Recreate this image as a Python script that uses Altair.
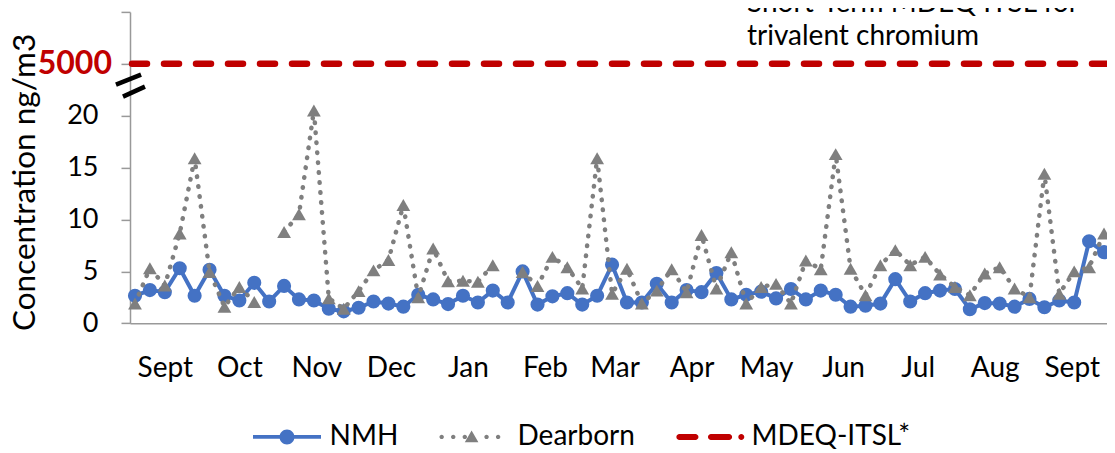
import altair as alt
import pandas as pd

# ---------------- data ----------------
FIRST_SAMPLE = "2010-08-20"
STEP_DAYS = 6  # 1-in-6 day sampling schedule

NMH = [2.65, 3.2, 3.0, 5.3, 2.65, 5.15, 2.65, 2.2, 3.9, 2.1,
       3.6, 2.3, 2.2, 1.4, 1.15, 1.5, 2.1, 1.9, 1.6, 2.75,
       2.3, 1.85, 2.65, 2.0, 3.15, 2.0, 5.0, 1.8, 2.6, 2.9,
       1.8, 2.65, 5.65, 2.0, 2.0, 3.8, 2.0, 3.2, 3.0, 4.85,
       2.3, 2.75, 3.05, 2.4, 3.3, 2.3, 3.15, 2.75, 1.6, 1.7,
       1.9, 4.25, 2.1, 2.9, 3.15, 3.3, 1.35, 1.95, 1.9, 1.6,
       2.35, 1.55, 2.2, 2.0, 7.9, 6.85]

DEARBORN = [1.9, 5.3, 3.65, 8.65, 15.9, 4.95, 1.6, 3.5, 2.05, None,
            8.8, 10.5, 20.5, 2.4, 1.4, 3.1, 5.1, 6.1, 11.4, 2.5,
            7.2, 4.05, 4.1, 4.0, 5.6, None, 4.95, 3.6, 6.4, 5.4,
            3.35, 15.9, 2.85, 5.25, 1.9, 3.15, 5.2, 3.0, 8.5, 3.35,
            6.85, 1.9, 3.5, 3.8, 1.9, 6.05, 5.2, 16.3, 5.25, 2.7,
            5.6, 7.05, 5.6, 6.4, 4.7, 3.5, 2.7, 4.8, 5.4, 3.35,
            2.5, 14.4, 2.85, 5.0, 5.4, 8.65]

SERIES = ["NMH", "Dearborn", "MDEQ-ITSL*"]
COLORS = ["#4472C4", "#7F7F7F", "#C00000"]
ITSL_VALUE = 5000
ITSL_LABEL = "5000"
ANNOTATION = ["Short-Term MDEQ ITSL for", "trivalent chromium"]
Y_TITLE = "Concentration ng/m3"
Y_TICKS = [0, 5, 10, 15, 20, 25, 30]

# broken axis: the 5000 threshold is drawn at axis position 25
ITSL_AXIS_POS = 25
BREAK_POS = 22.9

FONT = "Lato"

dates = pd.date_range(FIRST_SAMPLE, periods=len(NMH), freq=f"{STEP_DAYS}D").strftime("%Y-%m-%d")

nmh_df = pd.DataFrame({"date": dates, "value": NMH})
dear_df = pd.DataFrame({"date": dates, "value": DEARBORN})
dear_df["seg"] = dear_df["value"].isna().cumsum()
dear_df = dear_df.dropna()
itsl_df = pd.DataFrame({"value": [ITSL_VALUE], "pos": [ITSL_AXIS_POS], "text": [ITSL_LABEL]})
break_df = pd.DataFrame({"pos": [BREAK_POS]})
legend_df = pd.DataFrame({"series": SERIES})

# ---------------- scales / axes ----------------
t0 = pd.Timestamp(FIRST_SAMPLE, tz="UTC")
x_dom = [int((t0 - pd.Timedelta(days=2.01)).value // 10**6),
         int((t0 + pd.Timedelta(days=391.2)).value // 10**6)]

x_axis = alt.Axis(
    title=None, tickCount={"interval": "month", "step": 1}, ticks=False, tickSize=0,
    labelExpr="utcFormat(datum.value, '%b') == 'Sep' ? 'Sept' : utcFormat(datum.value, '%b')",
    labelPadding=53.5, labelBaseline="alphabetic", labelAlign="center",
    labelFont=FONT, labelFontSize=28, labelColor="black",
    labelOverlap=False, labelFlush=False, grid=False,
    domainColor="#999999", domainWidth=1.5,
)
y_axis = alt.Axis(
    title=Y_TITLE, values=Y_TICKS,
    labelExpr="datum.value > 20 ? '' : datum.label",
    tickSize=9, tickColor="#999999", tickWidth=1.5,
    labelPadding=23, labelFont=FONT, labelFontSize=27, labelColor="black",
    grid=False, domainColor="#999999", domainWidth=1.5,
    titleFont=FONT, titleFontSize=31.5, titleFontWeight="normal", titleColor="black",
    titleAngle=270, titleBaseline="bottom", titleAlign="center",
    titleX=-89, titleY=170,
)
x_scale = alt.Scale(type="utc", domain=x_dom, nice=False)
y_scale = alt.Scale(domain=[0, 30], nice=False, zero=False)


def X(field):
    return alt.X(f"{field}:T", scale=x_scale, axis=x_axis)


def Y(field):
    return alt.Y(f"{field}:Q", scale=y_scale, axis=y_axis)


# ---------------- legend symbols (unit box paths) ----------------
def circ(cx, r, cy=0.0):
    return (f"M{cx - r},{cy} A{r},{r} 0 1,1 {cx + r},{cy} "
            f"A{r},{r} 0 1,1 {cx - r},{cy} Z ")


def rbar(x0, x1, h):
    return (f"M{x0 + h},{-h} L{x1 - h},{-h} A{h},{h} 0 0,1 {x1 - h},{h} "
            f"L{x0 + h},{h} A{h},{h} 0 0,1 {x0 + h},{-h} Z ")


NMH_PATH = ("M-1,-0.055 L-0.2,-0.055 L-0.2,0.055 L-1,0.055 Z "
            "M0.2,-0.055 L1,-0.055 L1,0.055 L0.2,0.055 Z " + circ(0, 0.22))
DEAR_PATH = ("".join(circ(x, 0.065) for x in [-0.98, -0.64, -0.3, 0.34, 0.68])
             + "M-0.1,-0.19 L0.1,0.16 L-0.3,0.16 Z")
ITSL_PATH = rbar(-0.96, -0.31, 0.088) + rbar(-0.03, 0.68, 0.088) + circ(0.95, 0.088)
BREAK_PATH = "M-1.08,-0.08 L0.85,-0.85 M-0.54,0.85 L1.15,0.08"

legend = alt.Legend(
    orient="none", legendX=123, legendY=391, direction="horizontal", title=None,
    labelFont=FONT, labelFontSize=28, labelColor="black", labelOffset=8.5,
    columnPadding=40, symbolSize=4624, symbolStrokeWidth=0, symbolOpacity=1, padding=0,
)

# ---------------- layers ----------------
itsl_rule = alt.Chart(itsl_df).mark_rule(
    color=COLORS[2], strokeWidth=6.5, strokeDash=[15, 17], strokeCap="round"
).encode(y=Y("pos"))

nmh_line = alt.Chart(nmh_df).mark_line(color=COLORS[0], strokeWidth=4).encode(
    x=X("date"), y=Y("value"))
nmh_pts = alt.Chart(nmh_df).mark_point(
    filled=True, size=200, opacity=1, color=COLORS[0], shape="circle"
).encode(x=X("date"), y=Y("value"))

dear_line = alt.Chart(dear_df).mark_line(
    color=COLORS[1], strokeWidth=4.5, strokeDash=[0.5, 9.5], strokeCap="round"
).encode(x=X("date"), y=Y("value"), detail="seg:N")
dear_pts = alt.Chart(dear_df).mark_point(
    filled=True, size=190, opacity=1, color=COLORS[1], shape="triangle-up"
).encode(x=X("date"), y=Y("value"))

break_mark = alt.Chart(break_df).mark_point(
    filled=False, shape=BREAK_PATH, size=676, stroke="black", strokeWidth=4.5, opacity=1
).encode(x=alt.value(0), y=Y("pos"))

itsl_label = alt.Chart(itsl_df).mark_text(
    align="right", baseline="middle", font=FONT, fontSize=32, fontWeight="bold", color=COLORS[2]
).encode(x=alt.value(-18), y=Y("pos"), text="text:N")

annotation = alt.Chart(itsl_df).mark_text(
    align="left", baseline="alphabetic", font=FONT, fontSize=28, lineHeight=33, color="black"
).encode(x=alt.value(617), y=alt.value(0.1), text=alt.value(ANNOTATION))

legend_layer = alt.Chart(legend_df).mark_point(
    filled=True, opacity=1, size=4624, strokeWidth=0
).encode(
    color=alt.Color("series:N", scale=alt.Scale(domain=SERIES, range=COLORS), legend=legend),
    shape=alt.Shape("series:N", scale=alt.Scale(domain=SERIES, range=[NMH_PATH, DEAR_PATH, ITSL_PATH]),
                    legend=legend),
).transform_filter("false")

chart = alt.layer(
    itsl_rule, nmh_line, nmh_pts, dear_line, dear_pts, break_mark, itsl_label, annotation, legend_layer
).properties(
    width=977, height=311.4,
    autosize=alt.AutoSizeParams(type="none"),
    padding={"left": 122, "top": 3.9, "right": 0, "bottom": 129.7},
).configure(font=FONT, background="white").configure_view(strokeWidth=0)

chart.save("out.html", embed_options={"renderer": "svg", "actions": False})
